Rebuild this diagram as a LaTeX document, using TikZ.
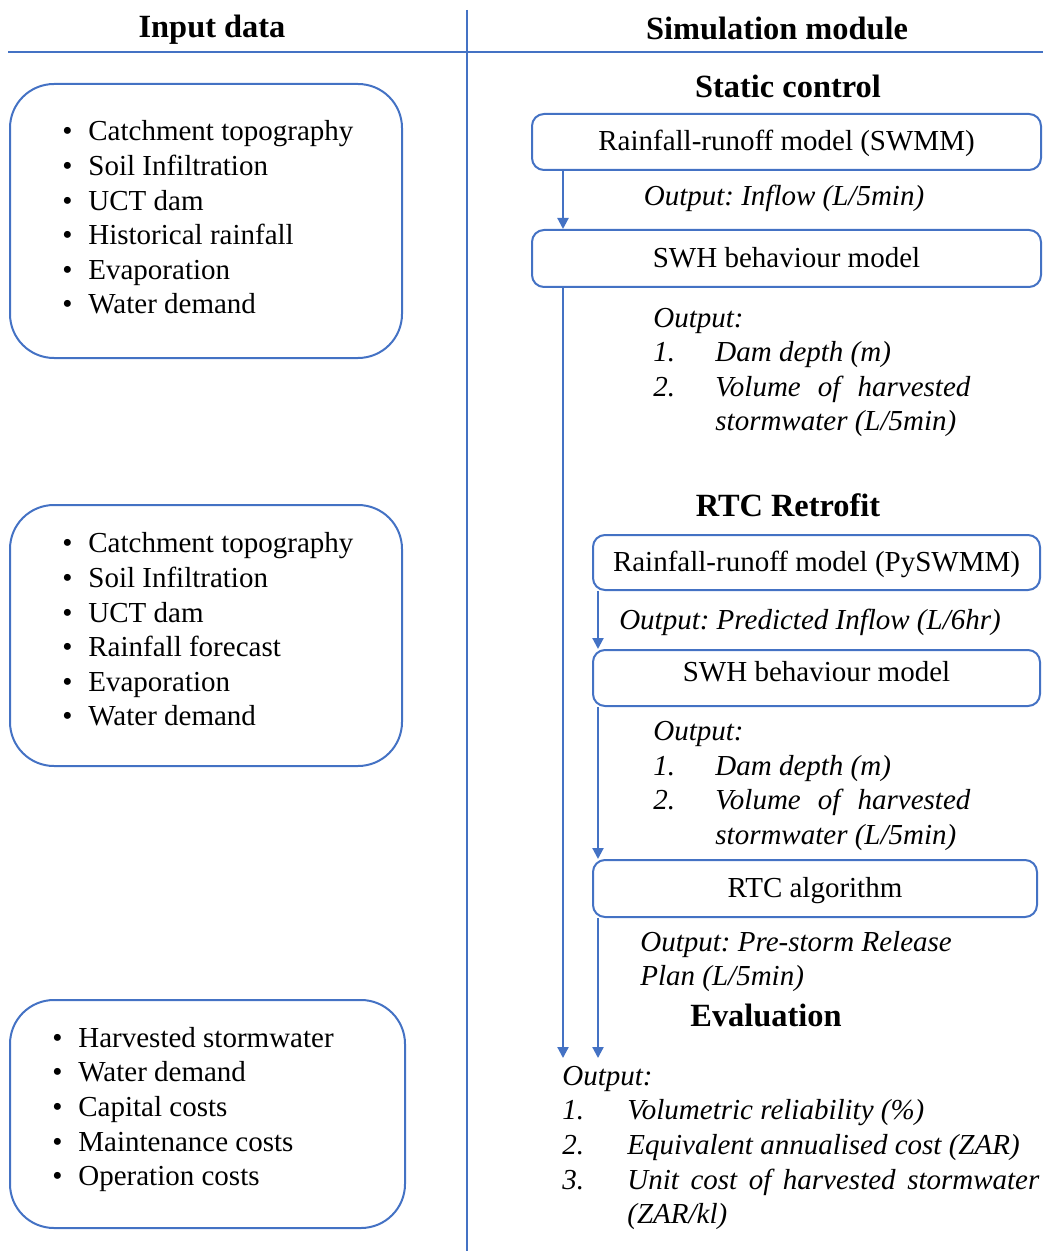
\documentclass[tikz,border=0pt]{standalone}
\usepackage{fontspec}
\setmainfont{Liberation Serif}
\usepackage{tikz}
\usetikzlibrary{positioning, arrows.meta}
\usepackage{xcolor}
\definecolor{lineblue}{RGB}{68,114,196}
\frenchspacing

\newcommand{\bul}{\makebox[13pt][l]{\textbullet}}
\newcommand{\numA}[1]{\makebox[31pt][l]{#1}}
\newcommand{\numB}[1]{\makebox[32.5pt][l]{#1}}

\begin{document}
\begin{tikzpicture}[x=0.5pt, y=-0.5pt,
    txt/.style={font=\fontsize{14.5}{17.3}\selectfont, inner sep=0pt},
    head/.style={font=\fontsize{16.2}{19}\selectfont\bfseries, inner sep=0pt},
    inbox/.style={draw=lineblue, line width=1pt, rounded corners=22pt, minimum width=196pt, inner sep=0pt},
    modbox/.style={txt, draw=lineblue, line width=1pt, rounded corners=6pt, text height=11pt, text depth=2pt},
    outtxt/.style={font=\fontsize{14.5}{17.3}\selectfont\itshape, inner sep=0pt, align=left, anchor=west},
    flow/.style={draw=lineblue, line width=1.1pt, -{Triangle[width=5.5pt,length=5.5pt]}},
    sep/.style={lineblue, line width=0.7pt}]
    \useasboundingbox (0,0) rectangle (1043,1251);

    % column headers
    \draw[sep] (467,10) -- (467,1251);
    \draw[sep] (8,52) -- (1043,52);
    \node[head] (hin) at (212,30) {Input data};
    \node[head] (hsim) at (777,28) {Simulation module};

    % input data lists
    \node[inbox, minimum height=137pt] (in1) at (206,221) {};
    \node[txt, align=left, anchor=west] (list1) at (62,217.5)
        {\bul Catchment topography\\ \bul Soil Infiltration\\ \bul UCT dam\\
         \bul Historical rainfall\\ \bul Evaporation\\ \bul Water demand};
    \node[inbox, minimum height=130.5pt] (in2) at (206,635.5) {};
    \node[txt, align=left, anchor=west] (list2) at (62,629.5)
        {\bul Catchment topography\\ \bul Soil Infiltration\\ \bul UCT dam\\
         \bul Rainfall forecast\\ \bul Evaporation\\ \bul Water demand};
    \node[inbox, minimum width=197.5pt, minimum height=114pt] (in3) at (207.5,1114) {};
    \node[txt, align=left, anchor=west] (list3) at (52,1109.5)
        {\bul Harvested stormwater\\ \bul Water demand\\ \bul Capital costs\\
         \bul Maintenance costs\\ \bul Operation costs};

    % static control
    \node[head] (static) at (788,86) {Static control};
    \node[modbox, minimum width=254.5pt, minimum height=28pt] (rr1) at (786.5,142) {Rainfall-runoff model (SWMM)};
    \node[outtxt, anchor=center] (out1) at (784,198) {Output: Inflow (L/5min)};
    \node[modbox, minimum width=254.5pt, minimum height=28.5pt] (swh1) at (786.5,258.5) {SWH behaviour model};
    \node[outtxt] (out2) at (653,372.5)
        {Output:\\ \numA{1.}Dam depth (m)\\ \numA{2.}\makebox[127.5pt][s]{Volume of harvested}\\
         \numA{}stormwater (L/5min)};

    % RTC retrofit
    \node[head] (retro) at (788,505) {RTC Retrofit};
    \node[modbox, minimum width=223.5pt, minimum height=27.5pt] (rr2) at (816.5,562.5) {Rainfall-runoff model (PySWMM)};
    \node[outtxt, anchor=center] (out3) at (810,622) {Output: Predicted Inflow (L/6hr)};
    \node[modbox, minimum width=223.5pt, minimum height=28pt, text depth=8pt] (swh2) at (816.5,678) {SWH behaviour model};
    \node[outtxt] (out4) at (653,786)
        {Output:\\ \numA{1.}Dam depth (m)\\ \numA{2.}\makebox[127.5pt][s]{Volume of harvested}\\
         \numA{}stormwater (L/5min)};
    \node[modbox, minimum width=222pt, minimum height=28.5pt] (rtc) at (815,888.5) {RTC algorithm};
    \node[outtxt] (out5) at (640,961.5) {Output: Pre-storm Release\\ Plan (L/5min)};

    % evaluation
    \node[head] (evalt) at (766,1015) {Evaluation};
    \node[outtxt] (out6) at (562,1148)
        {Output:\\ \numB{1.}Volumetric reliability (\%)\\ \numB{2.}Equivalent annualised cost (ZAR)\\
         \numB{3.}\makebox[206pt][s]{Unit cost of harvested stormwater}\\ \numB{}(ZAR/kl)};

    % flow arrows
    \coordinate (stemA) at (563,0);
    \coordinate (stemB) at (598,0);
    \coordinate (evalA) at (563,1058);
    \coordinate (evalB) at (598,1058);
    \draw[flow] (rr1.south -| stemA) -- (swh1.north -| stemA);
    \draw[flow] (swh1.south -| stemA) -- (evalA);
    \draw[flow] (rr2.south -| stemB) -- (swh2.north -| stemB);
    \draw[flow] (swh2.south -| stemB) -- (rtc.north -| stemB);
    \draw[flow] (rtc.south -| stemB) -- (evalB);
\end{tikzpicture}
\end{document}
